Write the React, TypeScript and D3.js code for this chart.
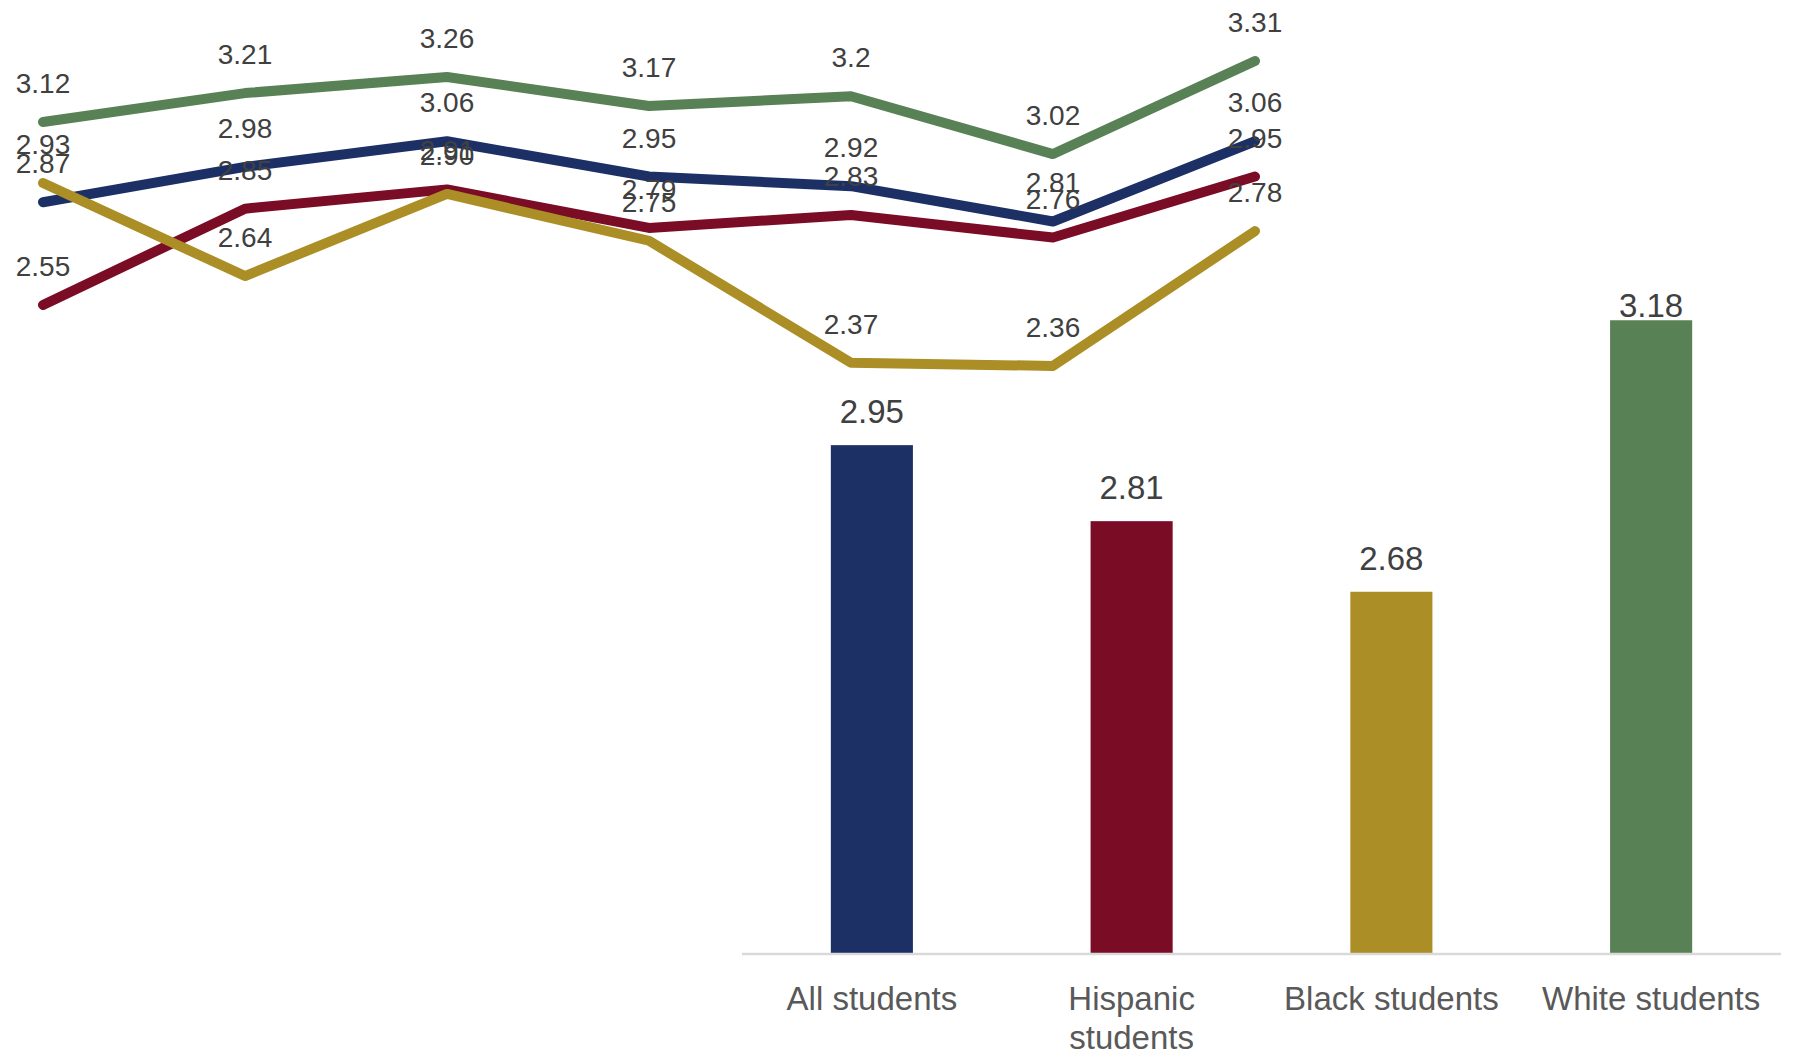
import React from "react";
import * as d3 from "d3";

const W = 1794;
const H = 1053;

const periods = ["P1", "P2", "P3", "P4", "P5", "P6", "P7"];
const allStudents = [2.87, 2.98, 3.06, 2.95, 2.92, 2.81, 3.06];
const hispanicStudents = [2.55, 2.85, 2.91, 2.79, 2.83, 2.76, 2.95];
const blackStudents = [2.93, 2.64, 2.896, 2.75, 2.37, 2.36, 2.78];
const whiteStudents = [3.12, 3.21, 3.26, 3.17, 3.2, 3.02, 3.31];

const barCategories = ["All students", "Hispanic students", "Black students", "White students"];
const barValues = [2.95, 2.81, 2.68, 3.18];

const colors = {
  all: "#1c3066",
  hispanic: "#7b0c25",
  black: "#ab8e26",
  white: "#588156",
};
const barColors = [colors.all, colors.hispanic, colors.black, colors.white];

const FONT = "'Liberation Sans', Arial, Helvetica, sans-serif";

function fmt(v: number) {
  const r = Math.round(v * 100) / 100;
  return Math.abs(v - r) > 1e-9 ? v.toFixed(2) : String(v);
}

function measure(text: string, size: number) {
  if (typeof document === "undefined") return text.length * size * 0.5;
  const c = document.createElement("canvas");
  const ctx = c.getContext("2d");
  if (!ctx) return text.length * size * 0.5;
  ctx.font = `${size}px ${FONT}`;
  return ctx.measureText(text).width;
}

function wrap(text: string, maxW: number, size: number): string[] {
  const words = text.split(" ");
  const lines: string[] = [];
  let cur = "";
  for (const w of words) {
    const t = cur ? cur + " " + w : w;
    if (measure(t, size) > maxW && cur) {
      lines.push(cur);
      cur = w;
    } else cur = t;
  }
  if (cur) lines.push(cur);
  return lines;
}

export default function App() {
  // line chart scales
  const xLine = d3.scalePoint<string>().domain(periods).range([43, 1255]);
  const yLine = d3.scaleLinear().domain([2, 3.5]).range([481.5, 0]);

  const series = [
    { key: "white", values: whiteStudents, color: colors.white },
    { key: "all", values: allStudents, color: colors.all },
    { key: "hispanic", values: hispanicStudents, color: colors.hispanic },
    { key: "black", values: blackStudents, color: colors.black },
  ];

  const lineGen = d3
    .line<number>()
    .x((_, i) => xLine(periods[i]) as number)
    .y((d) => yLine(d));

  // bar chart scales
  const xBar = d3
    .scaleBand<string>()
    .domain(barCategories)
    .range([742, 1781])
    .paddingInner(0.684)
    .paddingOuter(0.342);
  const yBar = d3.scaleLinear().domain([2, 3.5]).range([961, 146.5]);
  const baseY = 954;
  const plotTop = 317;

  const lineLabelSize = 28;
  const barLabelSize = 33;
  const catSize = 33;

  return (
    <svg
      width={W}
      height={H}
      style={{ position: "absolute", left: 0, top: 0, display: "block", background: "#fff" }}
      fontFamily={FONT}
    >
      {/* bars */}
      <g>
        {barCategories.map((c, i) => (
          <rect
            key={c}
            x={xBar(c)}
            y={yBar(barValues[i])}
            width={xBar.bandwidth()}
            height={baseY - yBar(barValues[i])}
            fill={barColors[i]}
          />
        ))}
      </g>
      <line x1={742} x2={1781} y1={baseY} y2={baseY} stroke="#d9d9d9" strokeWidth={2.5} />
      <g>
        {barCategories.map((c, i) => {
          const cx = (xBar(c) as number) + xBar.bandwidth() / 2;
          const y = Math.max(yBar(barValues[i]) - 22, plotTop);
          return (
            <text
              key={c}
              x={cx}
              y={y}
              textAnchor="middle"
              fontSize={barLabelSize}
              fill="#404040"
            >
              {barValues[i].toFixed(2)}
            </text>
          );
        })}
      </g>
      <g>
        {barCategories.map((c) => {
          const cx = (xBar(c) as number) + xBar.bandwidth() / 2;
          const lines = wrap(c, xBar.step(), catSize);
          return (
            <text key={c} x={cx} y={1010} textAnchor="middle" fontSize={catSize} fill="#595959">
              {lines.map((l, j) => (
                <tspan key={j} x={cx} dy={j === 0 ? 0 : 38.5}>
                  {l}
                </tspan>
              ))}
            </text>
          );
        })}
      </g>

      {/* lines */}
      <g fill="none" strokeWidth={10} strokeLinecap="round" strokeLinejoin="round">
        {series.map((s) => (
          <path key={s.key} d={lineGen(s.values) || ""} stroke={s.color} />
        ))}
      </g>
      <g fontSize={lineLabelSize} fill="#404040" textAnchor="middle">
        {series.map((s) =>
          s.values.map((v, i) => (
            <text key={s.key + i} x={xLine(periods[i])} y={yLine(v) - 29}>
              {fmt(v)}
            </text>
          ))
        )}
      </g>
    </svg>
  );
}
